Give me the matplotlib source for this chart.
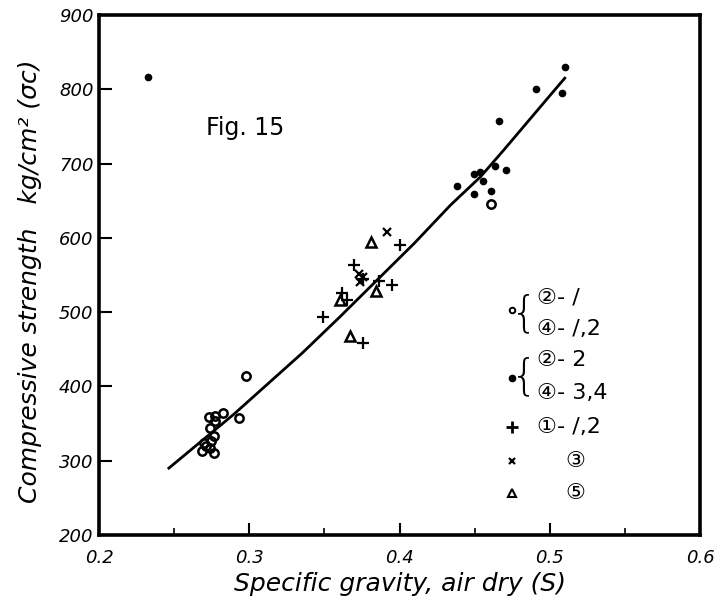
import numpy as np
import matplotlib
matplotlib.use("Agg")
import matplotlib.pyplot as plt
from matplotlib.ticker import MultipleLocator

plt.rcParams["font.family"] = ["DejaVu Sans", "Noto Sans CJK JP"]

# open circles: (2)-1, (4)-1,2
circ_x = [0.2977, 0.2826, 0.2773, 0.2733, 0.2773, 0.2932, 0.2740, 0.2766, 0.2700,
          0.2744, 0.2684, 0.2740, 0.2766, 0.2710, 0.4609]
circ_y = [414, 364, 360, 359, 354, 357, 344, 333, 324, 326, 313, 317, 311, 320, 646]

# solid dots: (2)-2, (4)-3,4
dot_x = [0.2323, 0.4383, 0.4494, 0.4533, 0.4556, 0.4494, 0.4611, 0.4638, 0.4711,
         0.4660, 0.4910, 0.5100, 0.5080]
dot_y = [817, 670, 686, 688, 677, 659, 663, 697, 691, 757, 800, 830, 795]

# plus: (1)-1,2
plus_x = [0.4000, 0.3696, 0.3862, 0.3950, 0.3619, 0.3652, 0.3492, 0.3758, 0.3760]
plus_y = [591, 563, 542, 537, 526, 516, 493, 458, 545]

# cross: (3)
cross_x = [0.3917, 0.3730, 0.3760, 0.3740]
cross_y = [608, 552, 547, 541]

# triangle: (5)
tri_x = [0.3807, 0.3841, 0.3603, 0.3670]
tri_y = [594, 528, 516, 468]

# fitted curve
fit_x = [0.2465, 0.2900, 0.3353, 0.3600, 0.3850, 0.4100, 0.4339, 0.4538, 0.4693, 0.5003, 0.5100]
fit_y = [290, 363, 445, 493, 543, 593, 644, 682, 718, 792, 815]

xticks = [0.2, 0.3, 0.4, 0.5, 0.6]
yticks = [200, 300, 400, 500, 600, 700, 800, 900]

fig = plt.figure(figsize=(7.21, 6.10), dpi=100)
ax = fig.add_axes([99 / 721, 75 / 610, 601 / 721, 520 / 610])

ax.plot(fit_x, fit_y, color="black", lw=2)
ax.plot(circ_x, circ_y, "o", mfc="none", mec="black", mew=1.8, ms=6)
ax.plot(dot_x, dot_y, "o", color="black", ms=4.5)
ax.plot(plus_x, plus_y, "+", color="black", mew=1.6, ms=8)
ax.plot(cross_x, cross_y, "x", color="black", mew=1.6, ms=6)
ax.plot(tri_x, tri_y, "^", mfc="none", mec="black", mew=1.8, ms=7)

ax.set_xlim(0.2, 0.6)
ax.set_ylim(200, 900)
ax.set_xticks(xticks)
ax.set_xticklabels([f"{v:.1f}" for v in xticks], fontsize=13, style="italic")
ax.xaxis.set_minor_locator(MultipleLocator(0.05))
ax.set_yticks(yticks)
ax.set_yticklabels([str(v) for v in yticks], fontsize=13, style="italic")
ax.tick_params(which="major", direction="in", length=9, width=1.5, top=False, right=False)
ax.tick_params(which="minor", direction="in", length=5, width=1.2, top=False, right=False)
ax.tick_params(axis="x", pad=10)
ax.tick_params(axis="y", pad=4)
for s in ax.spines.values():
    s.set_linewidth(2.6)

ax.set_xlabel("Specific gravity, air dry (S)", fontsize=18, style="italic", labelpad=4)
fig.text(30 / 721, (610 - 281) / 610, "Compressive strength   kg/cm² (σc)",
         rotation=90, fontsize=18, style="italic", ha="center", va="center")

ax.text(0.271, 748, "Fig. 15", fontsize=17, va="center")

# hand-drawn legend
lx = 0.687
ax.plot([lx], [0.433], "o", mfc="none", mec="black", mew=1.4, ms=4, transform=ax.transAxes)
ax.plot([lx], [0.302], "o", color="black", ms=4.5, transform=ax.transAxes)
ax.plot([lx], [0.208], "+", color="black", mew=2, ms=8, transform=ax.transAxes)
ax.plot([lx], [0.142], "x", color="black", mew=1.6, ms=5, transform=ax.transAxes)
ax.plot([lx], [0.081], "^", mfc="none", mec="black", mew=1.5, ms=6, transform=ax.transAxes)

ax.text(0.708, 0.426, "{", fontsize=30, fontweight="light", ha="center", va="center", transform=ax.transAxes)
ax.text(0.708, 0.305, "{", fontsize=30, fontweight="light", ha="center", va="center", transform=ax.transAxes)

tx = 0.728
lt = dict(fontsize=16, va="center", transform=ax.transAxes)
ax.text(tx, 0.456, "②- /", **lt)
ax.text(tx, 0.396, "④- /,2", **lt)
ax.text(tx, 0.337, "②- 2", **lt)
ax.text(tx, 0.273, "④- 3,4", **lt)
ax.text(tx, 0.208, "①- /,2", **lt)
ax.text(0.792, 0.142, "③", fontsize=16, va="center", ha="center", transform=ax.transAxes)
ax.text(0.792, 0.081, "⑤", fontsize=16, va="center", ha="center", transform=ax.transAxes)

fig.savefig("out.png", dpi=100)
